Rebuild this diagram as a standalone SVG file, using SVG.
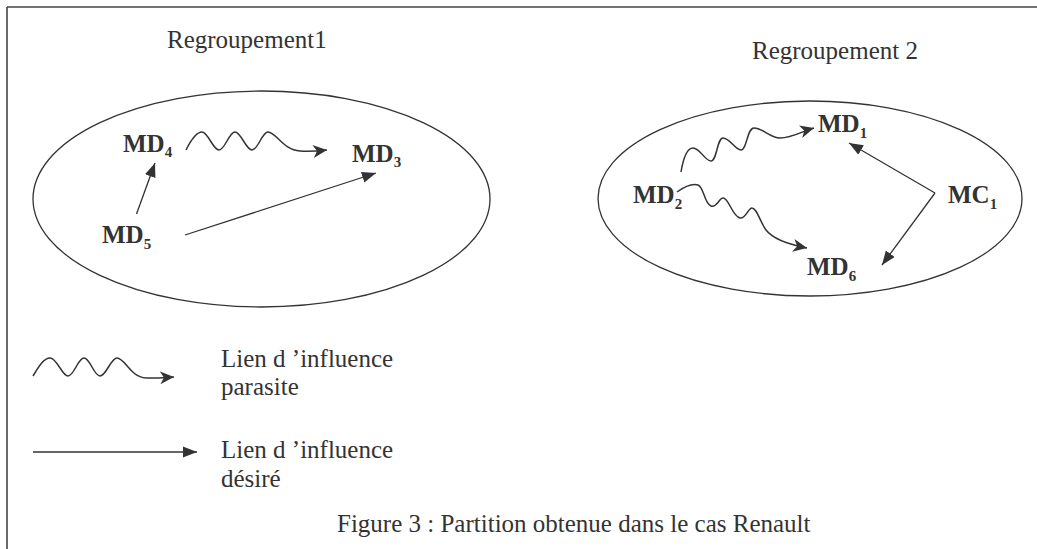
<svg xmlns="http://www.w3.org/2000/svg" width="1037" height="549" viewBox="0 0 1037 549">
<style>
  .frame { stroke: #444; stroke-width: 1.6; fill: none; }
  .cluster { fill: none; stroke: #333; stroke-width: 1.3; }
  .title { font-family: "Liberation Serif", "Times New Roman", serif; font-size: 25px; fill: #333; }
  .node { font-family: "Liberation Serif", "Times New Roman", serif; font-size: 25px; font-weight: bold; fill: #333; }
  .sub { font-size: 15px; }
  .link { fill: none; stroke: #333; stroke-width: 1.3; }
  .desired { marker-end: url(#tri); }
  .parasite { marker-end: url(#stealth); stroke-width: 1.5; }
</style>
<defs>
  <marker id="tri" markerUnits="userSpaceOnUse" markerWidth="16" markerHeight="12" refX="14" refY="6" orient="auto">
    <path d="M0,0.5 L14,6 L0,11.5 z" fill="#333"/>
  </marker>
  <marker id="stealth" markerUnits="userSpaceOnUse" markerWidth="16" markerHeight="14" refX="14" refY="6.5" orient="auto">
    <path d="M0,0 L14,6.5 L0,13 L4,6.5 z" fill="#333"/>
  </marker>
</defs>
<g id="frame">
  <line class="frame" x1="7" y1="7" x2="1037" y2="7"/>
  <line class="frame" x1="7" y1="7" x2="7" y2="549"/>
</g>
<g id="regroupement1">
  <ellipse class="cluster" cx="261.5" cy="199" rx="228.5" ry="108"/>
  <text class="title" x="167" y="48">Regroupement1</text>
</g>
<g id="regroupement2">
  <ellipse class="cluster" cx="810" cy="198.5" rx="212" ry="97.5"/>
  <text class="title" x="752" y="59">Regroupement 2</text>
</g>
<g id="MD4"><text class="node" x="123" y="152">MD<tspan class="sub" dy="5">4</tspan></text></g>
<g id="MD3"><text class="node" x="352" y="162">MD<tspan class="sub" dy="5">3</tspan></text></g>
<g id="MD5"><text class="node" x="102" y="243">MD<tspan class="sub" dy="6">5</tspan></text></g>
<g id="MD1"><text class="node" x="818" y="131.5">MD<tspan class="sub" dy="6">1</tspan></text></g>
<g id="MD2"><text class="node" x="633" y="203">MD<tspan class="sub" dy="6">2</tspan></text></g>
<g id="MC1"><text class="node" x="948" y="203">MC<tspan class="sub" dy="6">1</tspan></text></g>
<g id="MD6"><text class="node" x="807" y="275">MD<tspan class="sub" dy="6">6</tspan></text></g>
<g id="connectors">
  <line class="link desired" x1="136.5" y1="214" x2="155" y2="163"/>
  <line class="link desired" x1="185" y1="235" x2="376" y2="173"/>
  <line class="link desired" x1="935" y1="193" x2="849" y2="143"/>
  <line class="link desired" x1="935" y1="193" x2="882" y2="265"/>
  <path class="link parasite" d="M186,150 C192,138 197,132 202,132 C208,132 213,150 219,150 C225,150 229,132 235,132 C241,132 246,150 252,150 C258,150 262,132 268,132 C276,132 283,150 300,151 C310,151.5 318,151 327,150"/>
  <path class="link parasite" d="M681,172 C683,160 687,148 693,148 C700,148 705,161 711,161 C717,161 717,138 723,138 C730,138 735,150 741,150 C747,150 747,128 754,128 C763,128 770,138 780,138 C792,138 803,131 814,128"/>
  <path class="link parasite" d="M677,192 C684,187 691,183 698,185 C704,187 704,203 711,206 C717,208 719,198 723,198 C729,198 732,216 740,218 C746,219 748,208 752,208 C757,208 760,222 766,230 C773,239 786,244 807,248"/>
</g>
<g id="legend">
  <path class="link parasite" d="M33,376 C39,366 44,358 50,358 C57,358 62,376 68,376 C74,376 78,358 84,358 C90,358 94,376 100,376 C106,376 111,358 117,358 C125,358 130,377 146,378 C156,378.5 165,377.5 174,377"/>
  <text class="title" x="221" y="367">Lien d ’influence</text>
  <text class="title" x="221" y="395">parasite</text>
  <line class="link desired" x1="33" y1="452" x2="197" y2="452"/>
  <text class="title" x="221" y="458">Lien d ’influence</text>
  <text class="title" x="221" y="487">désiré</text>
</g>
<g id="caption">
  <text class="title" x="337" y="532">Figure 3 : Partition obtenue dans le cas Renault</text>
</g>
</svg>
